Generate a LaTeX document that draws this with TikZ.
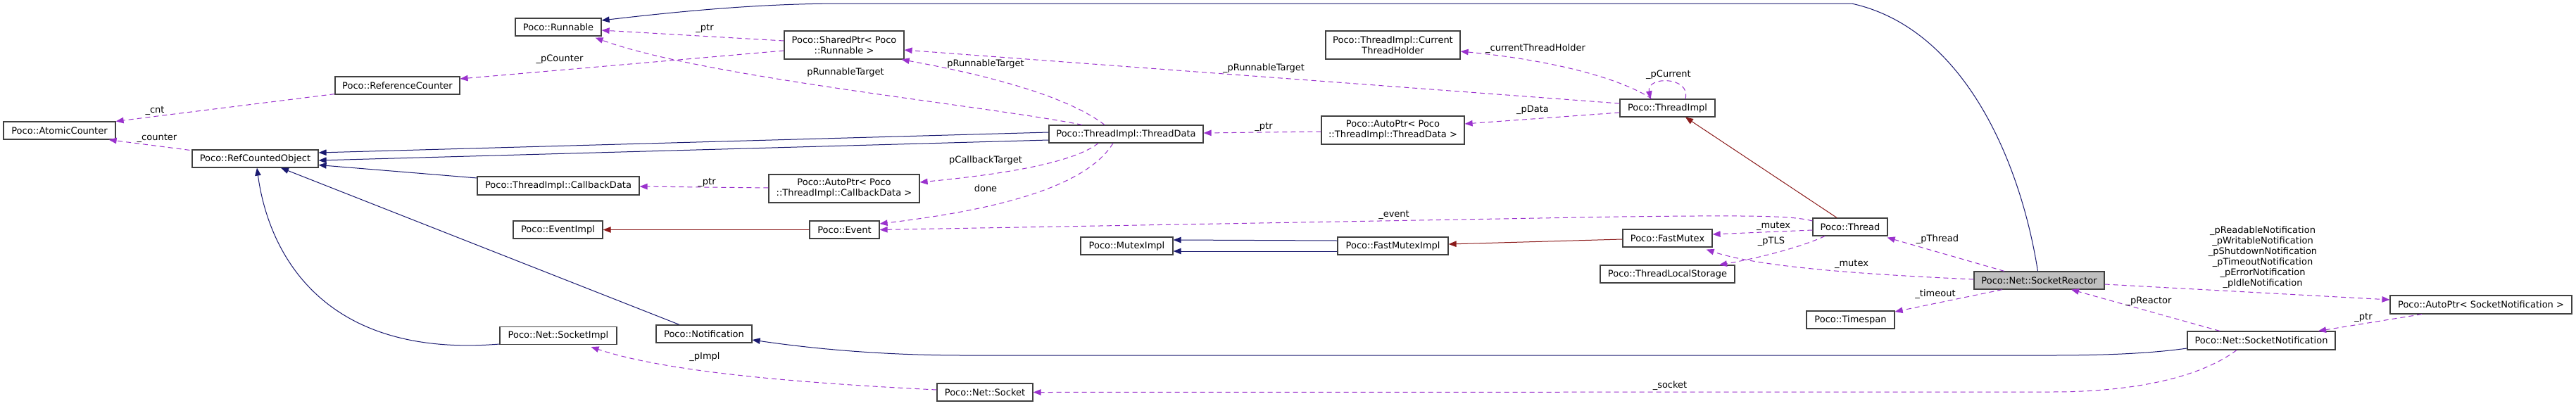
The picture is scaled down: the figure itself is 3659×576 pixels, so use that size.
\documentclass[tikz,border=0pt]{standalone}
\usepackage{fontspec}
\setmainfont{DejaVu Sans}
\usetikzlibrary{arrows.meta,calc}
\definecolor{inhC}{HTML}{191970}
\definecolor{privC}{HTML}{8B1A1A}
\definecolor{useC}{HTML}{9A32CD}
\newcommand\dfont{\fontsize{13}{15}\selectfont}
\begin{document}
\begin{tikzpicture}[x=1pt,y=-1pt,
  cls/.style={draw=black!75, line width=1.2pt, fill=white, inner sep=0pt, minimum height=25pt, font=\dfont, align=center},
  cls2/.style={cls, minimum height=40pt},
  lab/.style={font=\dfont, inner sep=0pt, align=center},
  tip/.style={-{Triangle[length=11pt,width=8.5pt]}},
  inh/.style={draw=inhC, line width=1pt, tip},
  priv/.style={draw=privC, line width=1pt, tip},
  use/.style={draw=useC, line width=1pt, dash pattern=on 7pt off 5pt, tip}]
\fill[white] (0,0) rectangle (3659,576);
\useasboundingbox (0,0) rectangle (3659,576);

% nodes
\node[cls, minimum width=122pt] (run) at (793,38.5) {Poco::Runnable};
\node[cls, minimum width=177pt] (refc) at (564.5,121.5) {Poco::ReferenceCounter};
\node[cls, minimum width=159pt] (atom) at (84.5,185.5) {Poco::AtomicCounter};
\node[cls, minimum width=179pt] (rco) at (362.5,225.5) {Poco::RefCountedObject};
\node[cls, minimum width=230pt, minimum height=26pt] (cbd) at (793,264) {Poco::ThreadImpl::CallbackData};
\node[cls2, minimum width=170pt] (sp) at (1199,64) {Poco::SharedPtr< Poco\\::Runnable >};
\node[cls, minimum width=219pt] (td) at (1599.5,190.5) {Poco::ThreadImpl::ThreadData};
\node[cls2, minimum width=214pt] (apcb) at (1199,268) {Poco::AutoPtr< Poco\\::ThreadImpl::CallbackData >};
\node[cls2, minimum width=191pt] (cth) at (1978.5,64) {Poco::ThreadImpl::Current\\ThreadHolder};
\node[cls, minimum width=135pt] (ti) at (2368.5,153.5) {Poco::ThreadImpl};
\node[cls2, minimum width=203pt] (aptd) at (1978.5,185) {Poco::AutoPtr< Poco\\::ThreadImpl::ThreadData >};
\node[cls, minimum width=127pt] (evi) at (792.5,326.5) {Poco::EventImpl};
\node[cls, minimum width=166pt] (simpl) at (793,477) {Poco::Net::SocketImpl};
\node[cls, minimum width=99pt] (ev) at (1199.5,326.5) {Poco::Event};
\node[cls, minimum width=131pt] (mi) at (1600.5,349.5) {Poco::MutexImpl};
\node[cls, minimum width=136pt] (notif) at (1000,474.5) {Poco::Notification};
\node[cls, minimum width=136pt] (sock) at (1399,557.5) {Poco::Net::Socket};
\node[cls, minimum width=157pt] (fmi) at (1978.5,349.5) {Poco::FastMutexImpl};
\node[cls, minimum width=127pt] (fm) at (2368.5,338.5) {Poco::FastMutex};
\node[cls, minimum width=106pt] (thr) at (2628,322.5) {Poco::Thread};
\node[cls, minimum width=191pt] (tls) at (2368.5,389.5) {Poco::ThreadLocalStorage};
\node[cls, minimum width=125pt] (ts) at (2628.5,454.5) {Poco::Timespan};
\node[cls, minimum width=185pt, fill=black!25] (sr) at (2896.5,398.5) {Poco::Net::SocketReactor};
\node[cls, minimum width=258pt, minimum height=26pt] (apsn) at (3524,433) {Poco::AutoPtr< SocketNotification >};
\node[cls, minimum width=210pt, minimum height=26pt] (sn) at (3212,484) {Poco::Net::SocketNotification};

% inheritance (blue)
\draw[inh] ($(sr.north)+(-2,0)$) .. controls (2870,230) and (2790,40) .. (2630,5) -- (1200,5) .. controls (1100,5) and (1000,12) .. ($(run.east)+(0,-9.5)$);
\draw[inh] ($(td.west)+(0,-2.5)$) -- ($(rco.east)+(0,-8.5)$);
\draw[inh] ($(td.west)+(0,8.5)$) -- ($(rco.east)+(0,2.5)$);
\draw[inh] ($(cbd.west)+(0,-11)$) -- ($(rco.east)+(0,9)$);
\draw[inh] ($(simpl.west)+(0,12)$) .. controls (450,510) and (380,350) .. ($(rco.south)+(2.5,0)$);
\draw[inh] ($(notif.north)+(-35,0)$) -- ($(rco.south)+(36.5,0)$);
\draw[inh] ($(sn.west)+(0,11)$) .. controls (3050,503) and (2980,505) .. (2914,505) -- (1369,505) .. controls (1250,505) and (1150,495) .. ($(notif.east)+(0,8.5)$);
\draw[inh] ($(fmi.west)+(0,-7.5)$) -- ($(mi.east)+(0,-8.5)$);
\draw[inh] ($(fmi.west)+(0,7.5)$) -- ($(mi.east)+(0,7.5)$);

% inheritance (dark red)
\draw[priv] ($(thr.north)+(-19,0)$) -- ($(ti.south)+(25.5,0)$);
\draw[priv] (ev.west) -- (evi.east);
\draw[priv] ($(fm.west)+(0,1.5)$) -- ($(fmi.east)+(0,-2.5)$);

% usage (purple dashed)
\draw[use] ($(refc.south west)+(0,-1)$) -- (atom.north east);
\draw[use] ($(rco.north west)+(-3,1)$) -- ($(atom.south east)+(-10,0)$);
\draw[use] ($(sp.west)+(0,8)$) -- ($(refc.east)+(0,-9.5)$);
\draw[use] ($(sp.west)+(0,-6)$) -- ($(run.east)+(0,4.5)$);
\draw[use] ($(td.north)+(-62.5,0)$) .. controls (1400,150) and (1000,110) .. ($(run.south east)+(-9,2)$);
\draw[use] ($(td.north)+(-30.5,0)$) .. controls (1520,140) and (1420,110) .. ($(sp.south east)+(-4,0)$);
\draw[use] ($(ti.west)+(0,-6.5)$) -- ($(sp.east)+(0,7)$);
\draw[use] ($(aptd.west)+(0,2)$) -- ($(td.east)+(0,-1.5)$);
\draw[use] ($(ti.west)+(0,6.5)$) -- ($(aptd.east)+(0,-9)$);
\draw[use] ($(ti.north)+(-22.5,0)$) .. controls (2300,110) and (2200,85) .. ($(cth.east)+(0,9)$);
\draw[use] ($(ti.north)+(25.5,0)$) .. controls (2402,108) and (2338,108) .. ($(ti.north)+(-24,0)$);
\draw[use] ($(apcb.west)+(0,-1)$) -- ($(cbd.east)+(0,1)$);
\draw[use] ($(td.south)+(-39.5,0)$) .. controls (1520,235) and (1400,250) .. ($(apcb.east)+(0,-9)$);
\draw[use] ($(td.south)+(-18.5,0)$) .. controls (1540,270) and (1400,300) .. ($(ev.east)+(0,-8.5)$);
\draw[use] ($(thr.west)+(0,-8.5)$) .. controls (2545,306) and (2480,306) .. (2300,308) -- (ev.east);
\draw[use] ($(thr.west)+(0,4.5)$) -- ($(fm.east)+(0,-5.5)$);
\draw[use] ($(thr.south)+(-36,0)$) .. controls (2550,355) and (2480,370) .. ($(tls.north)+(73.5,0)$);
\draw[use] ($(sr.west)+(0,-1.5)$) .. controls (2650,390) and (2500,380) .. ($(fm.south east)+(-9,3)$);
\draw[use] ($(sr.north)+(-49.5,0)$) -- ($(thr.south east)+(-1,2)$);
\draw[use] ($(sr.south)+(-52.5,0)$) -- ($(ts.east)+(0,-11.5)$);
\draw[use] ($(sr.east)+(0,5.5)$) -- ($(apsn.west)+(0,-7)$);
\draw[use] ($(sn.north)+(-59,0)$) -- ($(sr.south)+(45.5,0)$);
\draw[use] ($(apsn.south)+(-84,0)$) -- ($(sn.north)+(81,0)$);
\draw[use] ($(sn.south)+(-35,0)$) .. controls (3120,540) and (3020,557) .. (2914,557) -- (sock.east);
\draw[use] ($(sock.west)+(0,-3.5)$) .. controls (1150,545) and (950,530) .. ($(simpl.south east)+(-37,3)$);

% edge labels
\node[lab] (l1) at (220,157) {\_cnt};
\node[lab] (l2) at (223,196) {\_counter};
\node[lab] (l3) at (795,84) {\_pCounter};
\node[lab] (l4) at (1001,40) {\_ptr};
\node[lab] (l5) at (1201,103) {pRunnableTarget};
\node[lab] (l6) at (1400,91) {pRunnableTarget};
\node[lab] (l7) at (1795,97) {\_pRunnableTarget};
\node[lab] (l8) at (1795,180) {\_ptr};
\node[lab] (l9) at (2177,156) {\_pData};
\node[lab] (l10) at (2181,69) {\_currentThreadHolder};
\node[lab] (l11) at (2370,106) {\_pCurrent};
\node[lab] (l12) at (1004,259) {\_ptr};
\node[lab] (l13) at (1400,228) {pCallbackTarget};
\node[lab] (l14) at (1400,268) {done};
\node[lab] (l15) at (1980,305) {\_event};
\node[lab] (l16) at (2519,321) {\_mutex};
\node[lab] (l17) at (2516,343) {\_pTLS};
\node[lab] (l18) at (2630,375) {\_mutex};
\node[lab] (l19) at (2752,340) {\_pThread};
\node[lab] (l20) at (2749,418) {\_timeout};
\node[lab] (l21) at (3214,365.5) {\_pReadableNotification\\\_pWritableNotification\\\_pShutdownNotification\\\_pTimeoutNotification\\\_pErrorNotification\\\_pIdleNotification};
\node[lab] (l22) at (3052,428) {\_pReactor};
\node[lab] (l23) at (3357,451) {\_ptr};
\node[lab] (l24) at (2372,548) {\_socket};
\node[lab] (l25) at (1001,507) {\_pImpl};
\end{tikzpicture}
\end{document}
